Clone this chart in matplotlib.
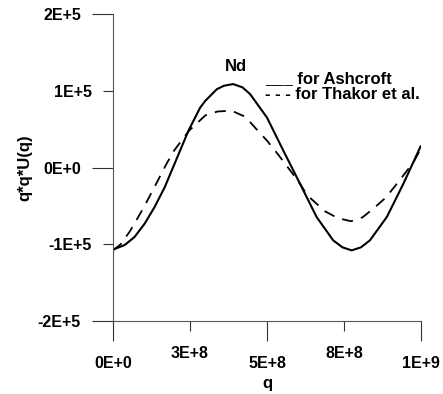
import matplotlib
matplotlib.use("Agg")
import matplotlib.pyplot as plt

plt.rcParams['font.family'] = ['Liberation Sans', 'DejaVu Sans']
plt.rcParams['font.weight'] = 'bold'
plt.rcParams['lines.scale_dashes'] = False

# ---- data (q in units of 1e9, values in units of 1e5) ----
ashcroft_q = [0.0, 0.038, 0.07, 0.103, 0.135, 0.168, 0.2, 0.245, 0.283, 0.30,
              0.337, 0.36, 0.39, 0.42, 0.445, 0.50, 0.553, 0.607, 0.661, 0.715,
              0.745, 0.775, 0.805, 0.834, 0.889, 0.943, 1.0]
ashcroft_v = [-1.07, -1.01, -0.905, -0.73, -0.515, -0.256, 0.05, 0.48, 0.78, 0.87,
              1.02, 1.065, 1.087, 1.045, 0.957, 0.65, 0.22, -0.21, -0.645, -0.95,
              -1.04, -1.08, -1.04, -0.95, -0.645, -0.21, 0.286]

thakor_q = [0.0, 0.025, 0.055, 0.10, 0.143, 0.174, 0.20, 0.247, 0.30, 0.34,
            0.385, 0.43, 0.47, 0.50, 0.536, 0.585, 0.607, 0.63, 0.688, 0.73,
            0.773, 0.81, 0.85, 0.886, 0.925, 0.975, 1.0]
thakor_v = [-1.08, -1.0, -0.83, -0.52, -0.19, 0.05, 0.23, 0.48, 0.68, 0.73,
            0.74, 0.66, 0.48, 0.35, 0.17, -0.09, -0.21, -0.36, -0.57, -0.66,
            -0.70, -0.65, -0.52, -0.39, -0.195, 0.065, 0.25]

x_major = [0.0, 5e8, 1e9]
x_major_labels = ['0E+0', '5E+8', '1E+9']
x_minor = [2.5e8, 7.5e8]
x_minor_labels = ['3E+8', '8E+8']
y_major = [-2e5, 0.0, 2e5]
y_major_labels = ['-2E+5', '0E+0', '2E+5']
y_minor = [-1e5, 1e5]
y_minor_labels = ['-1E+5', '1E+5']

Q_SCALE = 1e9
V_SCALE = 1e5

fig = plt.figure(figsize=(4.43, 3.94), dpi=100)
ax = fig.add_axes([113/443, 73/394, 308/443, 307/394])

ax.plot([q * Q_SCALE for q in ashcroft_q], [v * V_SCALE for v in ashcroft_v],
        color='black', lw=1.5, solid_capstyle='butt')
ax.plot([q * Q_SCALE for q in thakor_q], [v * V_SCALE for v in thakor_v],
        color='black', lw=1.3, dashes=(8, 6))

ax.set_xlim(0, 1e9)
ax.set_ylim(-2e5, 2e5)

for s in ['top', 'right']:
    ax.spines[s].set_visible(False)
for s in ['left', 'bottom']:
    ax.spines[s].set_color('#555555')
    ax.spines[s].set_linewidth(0.8)

ax.set_xticks(x_major)
ax.set_xticklabels(x_major_labels)
ax.set_xticks(x_minor, minor=True)
ax.set_xticklabels(x_minor_labels, minor=True)
ax.set_yticks(y_major)
ax.set_yticklabels(y_major_labels)
ax.set_yticks(y_minor, minor=True)
ax.set_yticklabels(y_minor_labels, minor=True)

ax.tick_params(axis='x', which='major', length=14.4, width=0.8, color='#333333',
               pad=11, labelsize=11.5)
ax.tick_params(axis='x', which='minor', length=7.2, width=0.8, color='#333333',
               pad=11, labelsize=11.5)
ax.tick_params(axis='y', which='major', length=15, width=0.8, color='#333333',
               pad=8, labelsize=11.5)
ax.tick_params(axis='y', which='minor', length=7.2, width=0.8, color='#333333',
               pad=8, labelsize=11.5)
for lab in ax.get_xticklabels(which='both') + ax.get_yticklabels(which='both'):
    lab.set_fontweight('bold')

ax.set_xlabel('q', fontsize=12, fontweight='bold')
ax.xaxis.set_label_coords(0.5, -0.179)
ax.set_ylabel('q*q*U(q)', fontsize=12, fontweight='bold')
ax.yaxis.set_label_coords(-0.263, 0.5)

ax.text(0.40e9, 1.26e5, 'Nd', ha='center', va='baseline', fontsize=12, fontweight='bold')
ax.text(0.4935e9, 1.104e5, '___ for Ashcroft', ha='left', va='baseline',
        fontsize=12, fontweight='bold')
ax.text(0.4935e9, 0.896e5, '- - - for Thakor et al.', ha='left', va='baseline',
        fontsize=12, fontweight='bold')

fig.savefig('out.png', dpi=100)
